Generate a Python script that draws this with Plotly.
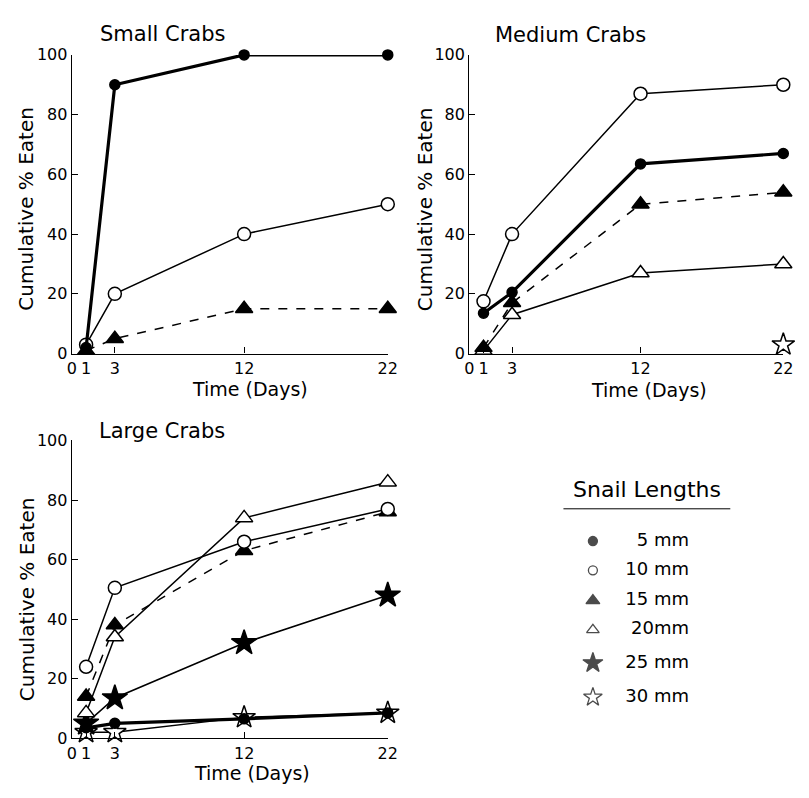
import plotly.graph_objects as go

W, H = 809, 798
days = [1, 3, 12, 22]
xtick_vals = [0, 1, 3, 12, 22]
xtick_text = ["0", "1", "3", "12", "22"]
ytick_vals = [0, 20, 40, 60, 80, 100]

# Small crabs
small_5 = [2, 90, 100, 100]
small_10 = [3, 20, 40, 50]
small_15 = [1, 5, 15, 15]

# Medium crabs
med_5 = [13.5, 20.5, 63.5, 67]
med_10 = [17.5, 40, 87, 90]
med_15 = [2, 17, 50, 54]
med_20 = [1, 13, 27, 30]
med_30_x = [22]
med_30 = [3]

# Large crabs
large_5 = [3.5, 5, 6.5, 8.5]
large_10 = [24, 50.5, 66, 77]
large_15 = [14, 38, 63, 76]
large_20 = [8.5, 34, 74, 86]
large_25 = [5, 13.5, 32, 48]
large_30 = [2, 2, 7, 8.5]

legend_labels = ["5 mm", "10 mm", "15 mm", "20mm", "25 mm", "30 mm"]

FONT = "DejaVu Sans"
BLK = "black"

styles = {
    "5":  dict(symbol="circle", size=10, color=BLK, lw=3.2, dash="solid", fill=BLK),
    "10": dict(symbol="circle", size=13, color=BLK, lw=1.5, dash="solid", fill="white"),
    "15": dict(symbol="triangle-up", size=15, color=BLK, lw=1.5, dash="dash", fill=BLK),
    "20": dict(symbol="triangle-up", size=15, color=BLK, lw=1.5, dash="solid", fill="white"),
    "25": dict(symbol="star", size=19, color=BLK, lw=1.5, dash="solid", fill=BLK),
    "30": dict(symbol="star", size=17, color=BLK, lw=1.5, dash="solid", fill="white"),
}

fig = go.Figure()

def add(x, y, key, ax):
    s = styles[key]
    fig.add_trace(go.Scatter(
        x=x, y=y, mode="lines+markers", xaxis="x" + ax, yaxis="y" + ax,
        line=dict(color=BLK, width=s["lw"], dash=s["dash"]),
        marker=dict(symbol=s["symbol"], size=s["size"], color=s["fill"],
                    line=dict(color=BLK, width=1.5)),
        cliponaxis=False, showlegend=False, hoverinfo="skip"))

# Small
add(days, small_15, "15", "")
add(days, small_10, "10", "")
add(days, small_5, "5", "")
# Medium
add(days, med_20, "20", "2")
add(days, med_15, "15", "2")
add(days, med_5, "5", "2")
add(days, med_10, "10", "2")
add(med_30_x, med_30, "30", "2")
# Large
add(days, large_30, "30", "3")
add(days, large_5, "5", "3")
add(days, large_25, "25", "3")
add(days, large_15, "15", "3")
add(days, large_10, "10", "3")
add(days, large_20, "20", "3")

# Legend panel (rows placed in pixel units of a hidden axis)
keys = ["5", "10", "15", "20", "25", "30"]
LEG_ROWS_PX = [545, 575, 606, 636, 670, 705]
fig.add_trace(go.Scatter(
    x=[0] * len(keys), y=LEG_ROWS_PX, mode="markers", xaxis="x4", yaxis="y4",
    marker=dict(symbol=[styles[k]["symbol"] for k in keys],
                size=[9, 9, 12, 11, 15, 14],
                color=[styles[k]["fill"] for k in keys],
                line=dict(color=BLK, width=1.3)),
    cliponaxis=False, showlegend=False, hoverinfo="skip"))
fig.add_trace(go.Scatter(
    x=[1] * len(keys), y=LEG_ROWS_PX, mode="text", xaxis="x4", yaxis="y4",
    text=legend_labels, textposition="middle left",
    textfont=dict(family=FONT, size=18, color=BLK),
    cliponaxis=False, showlegend=False, hoverinfo="skip"))

def px_x(p):
    return p / W

def px_y(p):
    return 1 - p / H

xa = dict(range=[0, 22], tickvals=xtick_vals, ticktext=xtick_text, ticks="inside",
          ticklen=6, tickcolor=BLK, showline=True, linecolor=BLK, linewidth=1.2,
          showgrid=False, zeroline=False, tickfont=dict(family=FONT, size=16, color=BLK),
          fixedrange=True)
ya = dict(range=[0, 100], tickvals=ytick_vals, ticks="inside", ticklen=6, tickcolor=BLK,
          showline=True, linecolor=BLK, linewidth=1.2, showgrid=False, zeroline=False,
          tickfont=dict(family=FONT, size=16, color=BLK), fixedrange=True)

top_y = [px_y(353), px_y(47)]
bot_y = [px_y(747), px_y(442)]

fig.update_layout(
    width=W, height=H, margin=dict(l=0, r=0, t=0, b=0),
    paper_bgcolor="white", plot_bgcolor="white",
    xaxis=dict(xa, domain=[px_x(68), px_x(390)], anchor="y"),
    yaxis=dict(ya, domain=top_y, anchor="x"),
    xaxis2=dict(xa, domain=[px_x(473), px_x(793)], anchor="y2"),
    yaxis2=dict(ya, domain=top_y, anchor="x2"),
    xaxis3=dict(xa, domain=[px_x(68), px_x(390)], anchor="y3"),
    yaxis3=dict(ya, domain=bot_y, anchor="x3"),
    xaxis4=dict(domain=[px_x(599), px_x(697)], range=[0, 1], visible=False,
                anchor="y4", fixedrange=True),
    yaxis4=dict(domain=[px_y(720), px_y(530)], range=[720, 530], visible=False,
                anchor="x4", fixedrange=True),
    showlegend=False,
)

ann = []
def text(x, y, t, size, angle=0, xanchor="center"):
    ann.append(dict(x=px_x(x), y=px_y(y), xref="paper", yref="paper", text=t,
                    showarrow=False, textangle=angle, xanchor=xanchor, yanchor="middle",
                    font=dict(family=FONT, size=size, color=BLK)))

text(160, 26, "Small Crabs", 21)
text(576, 27, "Medium Crabs", 21)
text(160, 432, "Large Crabs", 21)
text(22, 205, "Cumulative % Eaten", 20, angle=-90)
text(428, 205, "Cumulative % Eaten", 20, angle=-90)
text(22, 605, "Cumulative % Eaten", 20, angle=-90)
text(250, 389, "Time (Days)", 19)
text(656, 390, "Time (Days)", 19)
text(252, 783, "Time (Days)", 19)
text(654, 492, "Snail Lengths", 22)
fig.update_layout(annotations=ann)

fig.add_shape(type="line", xref="paper", yref="paper", x0=px_x(569), x1=px_x(739),
              y0=px_y(512), y1=px_y(512), line=dict(color=BLK, width=1))

fig.write_html("out.html", config={"displayModeBar": False},
               post_script="document.body.style.margin='0px';")
